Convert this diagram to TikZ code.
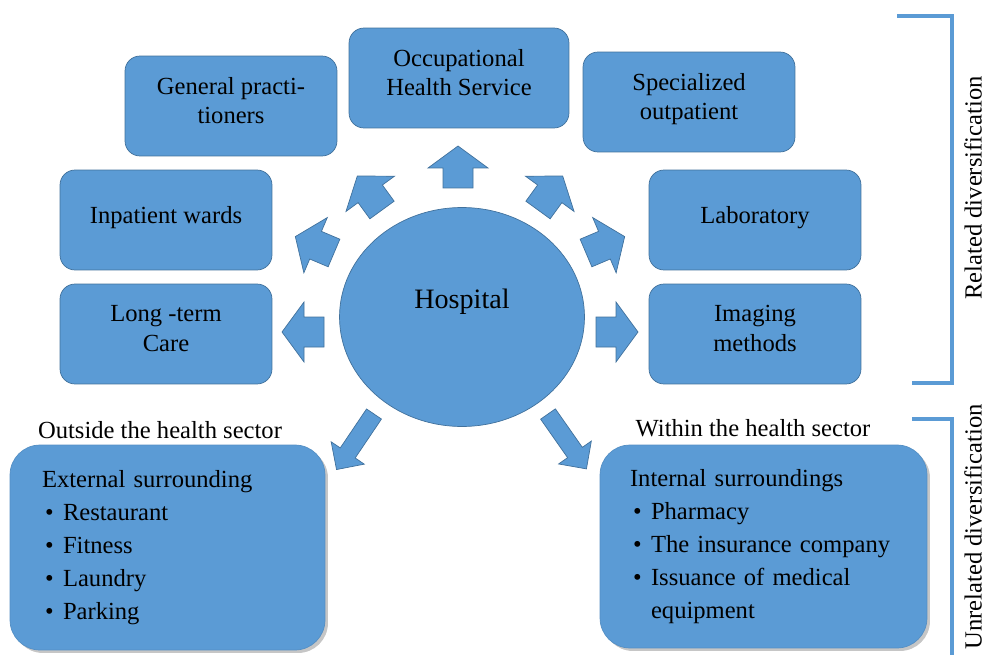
\documentclass[tikz,border=0pt]{standalone}
\usepackage{fontspec}
\setmainfont{Liberation Serif}
\usetikzlibrary{positioning,shapes.geometric,shadows}
\definecolor{boxblue}{RGB}{91,155,213}
\definecolor{boxline}{RGB}{65,113,156}
\newcommand{\itm}{\makebox[0.42cm][l]{\hspace{0.06cm}\textbullet}}

\begin{document}
\begin{tikzpicture}[x=0.02cm,y=-0.02cm,
    font=\fontsize{14}{17}\selectfont,
    unit/.style={draw=boxline,fill=boxblue,rounded corners=0.3cm,
      minimum width=4.24cm,minimum height=2cm,align=center,text depth=0.22cm},
    hub/.style={ellipse,draw=boxline,fill=boxblue,
      minimum width=4.9cm,minimum height=4.38cm},
    sector/.style={fill=boxblue,draw=boxblue!92!black,rounded corners=0.6cm,
      drop shadow={shadow xshift=0.06cm,shadow yshift=-0.06cm,opacity=0.45},
      align=left,font=\fontsize{14}{18.7}\selectfont},
    fat/.style={draw=boxline,fill=boxblue,line join=miter},
    bracket/.style={draw=boxblue,line width=0.07cm},
    pics/fatarrow/.style n args={4}{code={
      \draw[fat] (0,-#3) -- ({#1-#2},-#3) -- ({#1-#2},-#4) -- (#1,0)
        -- ({#1-#2},#4) -- ({#1-#2},#3) -- (0,#3) -- cycle;
    }}]

  \useasboundingbox (0,0) rectangle (986,655);

  % centre
  \node[hub,label={[yshift=0.3cm,font=\fontsize{16}{19}\selectfont]center:Hospital}]
    (hosp) at (462,317) {};

  % related units
  \node[unit] (gp)   at (231,106) {General practi-\\tioners};
  \node[unit,minimum width=4.4cm] (ohs) at (459,78) {Occupational\\Health Service};
  \node[unit] (spec) at (689,102) {Specialized\\outpatient};
  \node[unit] (ward) at (166,220) {Inpatient wards};
  \node[unit] (lab)  at (755,220) {Laboratory};
  \node[unit] (care) at (166,334) {Long -term\\Care};
  \node[unit] (img)  at (755,334) {Imaging\\methods};

  % arrows out of the hospital
  \foreach \tx/\ty/\ang in {458/188/90, 382/210/126, 334/253/157, 324/332/180,
      538/210/54, 586/253/23, 596/332/0}
    \pic[rotate=\ang] at (\tx,\ty) {fatarrow={42}{22}{15}{30}};
  \foreach \tx/\ty/\ang in {374/414/236, 548/414/-55}
    \pic[rotate=\ang] at (\tx,\ty) {fatarrow={67}{20}{9}{20}};

  % unrelated units
  \node[sector,text width=5.02cm,inner xsep=0.64cm,minimum height=4.1cm]
    (ext) at (167.5,547.5)
    {External surrounding\\\itm Restaurant\\\itm Fitness\\\itm Laundry\\\itm Parking};
  \node[sector,text width=5.34cm,inner xsep=0.6cm,minimum height=4.06cm]
    (int) at (763.5,546.5)
    {Internal surroundings\\\itm Pharmacy\\\itm The insurance company\\
     \itm Issuance of medical\\\hspace{0.42cm}equipment};
  \node (outside) at (160,430) {Outside the health sector};
  \node (within)  at (753,428) {Within the health sector};

  % brackets
  \draw[bracket] (897,16) -- (952,16) -- (952,383) -- (912,383);
  \draw[bracket] (912,419) -- (952,419) -- (952,655);
  \node[rotate=90] (rel)   at (973,188) {Related diversification};
  \node[rotate=90] (unrel) at (973,527) {Unrelated diversification};

\end{tikzpicture}
\end{document}
